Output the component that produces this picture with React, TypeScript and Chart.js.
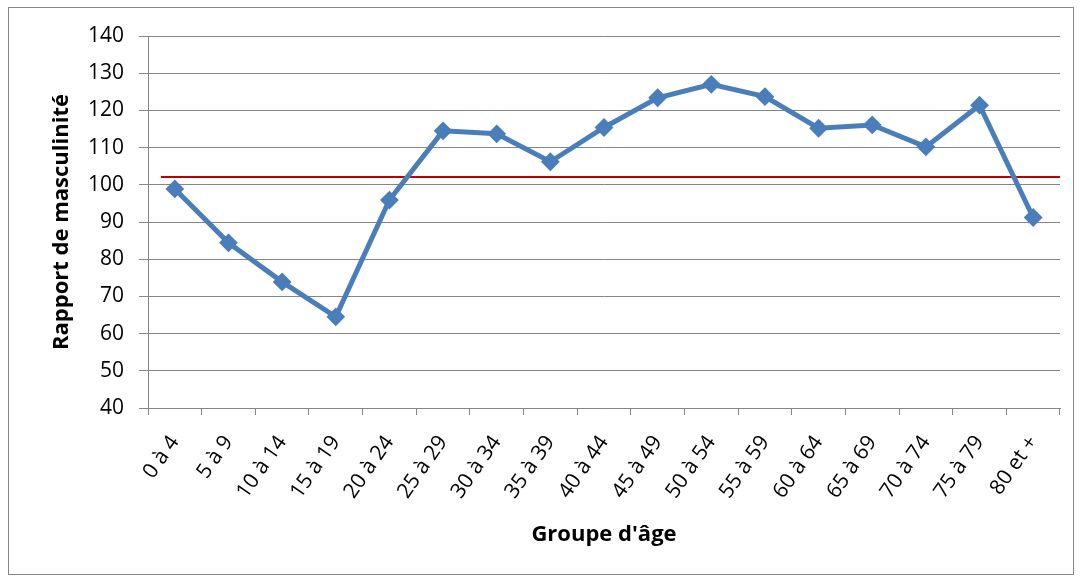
import React, { useEffect, useRef } from "react";
import { Chart, registerables } from "chart.js";

Chart.register(...registerables);

const ageGroups = [
  "0 à 4", "5 à 9", "10 à 14", "15 à 19", "20 à 24", "25 à 29", "30 à 34", "35 à 39",
  "40 à 44", "45 à 49", "50 à 54", "55 à 59", "60 à 64", "65 à 69", "70 à 74", "75 à 79", "80 et +",
];
const masculinityRatio = [
  98.9, 84.4, 73.9, 64.5, 95.9, 114.5, 113.7, 106.2, 115.4, 123.4, 127.0, 123.7, 115.2, 116.1, 110.2, 121.4, 91.2,
];
const referenceLevel = 102.1;
const referenceStart = -0.26;
const referenceEnd = 16.5;
const yMin = 40;
const yMax = 140;
const yStep = 10;

const FONT = "'Open Sans', Lato, sans-serif";
const GRID = "#868686";

export default function App() {
  const ref = useRef<HTMLCanvasElement | null>(null);
  useEffect(() => {
    document.body.style.margin = "0";
    const ctx = ref.current!.getContext("2d")!;
    const chart = new Chart(ctx, {
      type: "line",
      data: {
        labels: ageGroups,
        datasets: [
          {
            label: "Rapport de masculinité",
            data: masculinityRatio,
            borderColor: "#4a7ebb",
            backgroundColor: "#4a7ebb",
            borderWidth: 5,
            pointStyle: "rectRot",
            pointRadius: 8,
            pointBorderWidth: 2,
            pointBackgroundColor: "#4a7ebb",
            pointBorderColor: "#4a7ebb",
            tension: 0,
            xAxisID: "x",
          },
          {
            label: "Référence",
            data: [
              { x: referenceStart, y: referenceLevel },
              { x: referenceEnd, y: referenceLevel },
            ] as any,
            borderColor: "#c00000",
            borderWidth: 2,
            pointRadius: 0,
            xAxisID: "x2",
          },
        ],
      },
      options: {
        animation: false,
        responsive: false,
        events: [],
        layout: { padding: { top: 36, right: 21, left: 0, bottom: 0 } },
        plugins: { legend: { display: false }, tooltip: { enabled: false } },
        scales: {
          x: {
            type: "category",
            offset: true,
            grid: {
              offset: true,
              drawOnChartArea: false,
              drawTicks: true,
              tickLength: 7,
              color: GRID,
              lineWidth: 1,
            },
            border: { color: GRID, width: 1 },
            ticks: {
              autoSkip: false,
              minRotation: 55,
              maxRotation: 55,
              color: "#000",
              font: { family: FONT, size: 21 },
              padding: 16,
            },
            title: {
              display: true,
              text: "Groupe d'âge",
              color: "#000",
              font: { family: FONT, size: 22, weight: "bold" },
              padding: { top: 0, bottom: 30 },
            },
            afterFit: (s: any) => {
              s.height = 170;
            },
          },
          x2: {
            type: "linear",
            display: false,
            min: -0.5,
            max: ageGroups.length - 0.5,
          },
          y: {
            min: yMin,
            max: yMax,
            ticks: {
              stepSize: yStep,
              color: "#000",
              font: { family: FONT, size: 21 },
              padding: 15,
            },
            grid: { color: GRID, lineWidth: 1, tickLength: 9, drawTicks: true },
            border: { color: GRID, width: 1 },
            title: {
              display: true,
              text: "Rapport de masculinité",
              color: "#000",
              font: { family: FONT, size: 22, weight: "bold" },
              padding: { top: 49, bottom: 0 },
            },
            afterFit: (s: any) => {
              s.width = 148;
            },
          },
        },
      },
    });
    return () => chart.destroy();
  }, []);
  return (
    <div style={{ position: "relative", width: 1081, height: 578 }}>
      <div
        style={{
          position: "absolute",
          left: 8,
          top: 7,
          width: 1066,
          height: 568,
          border: "1px solid #868686",
          boxSizing: "border-box",
        }}
      />
      <canvas ref={ref} width={1081} height={578} style={{ position: "absolute", left: 0, top: 0 }} />
    </div>
  );
}
